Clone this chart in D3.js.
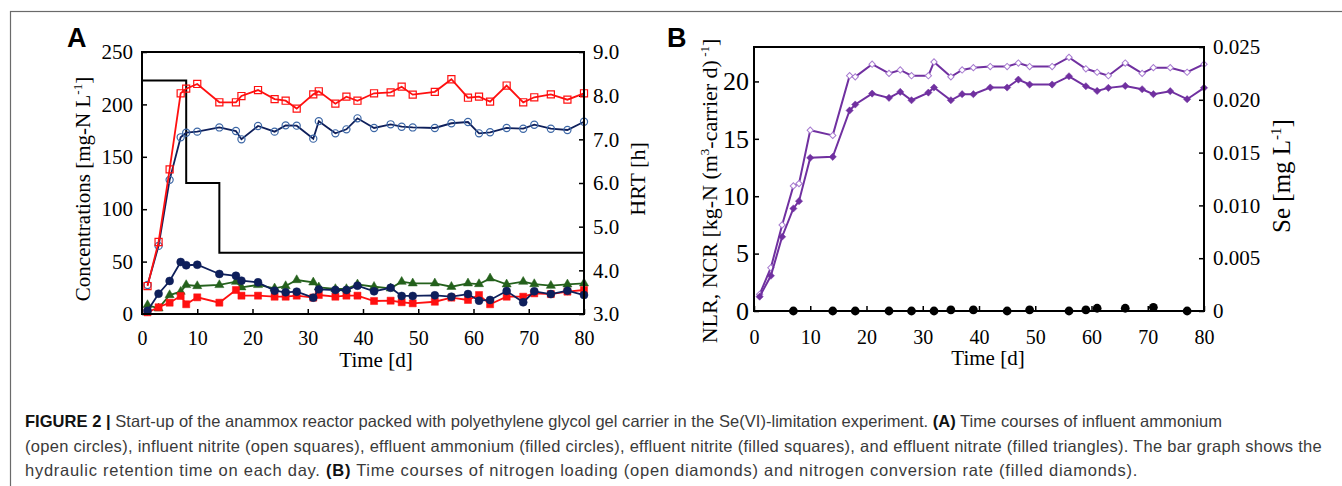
<!DOCTYPE html>
<html>
<head>
<meta charset="utf-8">
<script src="https://cdn.jsdelivr.net/npm/d3@7"></script>
<style>
  body { margin: 0; background: #fff; }
  svg { display: block; }
  .serif { font-family: "Liberation Serif", "Times New Roman", serif; fill: #000; }
  .caption { font-family: "Liberation Sans", Arial, sans-serif; font-size: 16.5px; fill: #3a3a3a; }
  .caption .b { font-weight: bold; fill: #111; }
</style>
</head>
<body>
<div id="chart"></div>
<script>
// Sampling days (shared by both panels)
const days = [1, 3, 5, 7, 8, 10, 14, 17, 18, 21, 24, 26, 28, 31, 32, 35, 37, 39, 42, 45, 47, 49, 53, 56, 59, 61, 63, 66, 69, 71, 74, 77, 80];

// Panel A: concentrations [mg-N/L]
const influentAmmonium = [27.7, 65, 128, 168.6, 173, 174, 178, 174.6, 166.7, 179.4, 174, 180, 179.7, 167.3, 184, 172.4, 176.2, 186.7, 177.5, 181, 178.7, 178, 177.5, 182, 183.2, 172.4, 173.4, 177.5, 176.8, 180.6, 176.8, 175.6, 183.5];
const influentNitrite = [26.7, 68.7, 138, 210.6, 215, 219.5, 202, 202, 208, 213.7, 205, 203.5, 196, 209.6, 212.5, 200.7, 207.4, 203.5, 210.6, 211.5, 216.9, 209.3, 212, 224, 206.4, 207.4, 202.6, 218, 202, 206.8, 209.6, 204.5, 210.6];
const effluentAmmonium = [3, 19.4, 31.5, 49.6, 46.5, 47, 38.2, 36.5, 31.8, 30.2, 22.2, 20.7, 21.3, 15.6, 23.5, 22.9, 22.9, 27, 21.6, 25, 17.2, 17.2, 17.8, 16.5, 19, 12.7, 13.4, 21.9, 11.2, 21.6, 19, 22.2, 18.1];
const effluentNitrite = [1.6, 6.4, 10.8, 17.2, 9.3, 15.9, 10.8, 22.9, 17.5, 17.5, 16.5, 16.5, 17.5, 15.6, 18.1, 16.5, 17.5, 17.5, 12.4, 12.7, 11.2, 10.2, 11.7, 15.6, 13.4, 18.1, 9.3, 16.5, 16.5, 19.7, 19, 21.3, 22.9];
const effluentNitrate = [8.6, 5.4, 18.1, 21.3, 27.7, 26.7, 27.7, 30.8, 25.5, 27.7, 24.5, 26.7, 32.4, 30.2, 25.5, 23.9, 23.9, 28.3, 26, 24.5, 30.8, 29.3, 29.3, 26, 29.3, 28.6, 34, 28.3, 30.8, 28.6, 27, 28.3, 29.3];

// Panel A: HRT [h] steps (value holds until next change day)
const hrtDays = [0, 8, 14, 80];
const hrtValues = [8.35, 6.0, 4.4, 4.4];

// Panel B: nitrogen loading / conversion rate [kg-N (m3-carrier d)-1]
const nlr = [1.45, 3.77, 7.5, 10.9, 11.1, 15.75, 15.3, 20.5, 20.4, 21.5, 20.7, 21.0, 20.5, 20.5, 21.7, 20.4, 21.0, 21.2, 21.3, 21.3, 21.6, 21.3, 21.3, 22.1, 21.1, 20.8, 20.5, 21.6, 20.7, 21.2, 21.2, 20.8, 21.5];
const ncr = [1.25, 3.07, 6.47, 8.93, 9.57, 13.35, 13.43, 17.47, 17.99, 18.94, 18.57, 19.09, 18.36, 19.03, 19.47, 18.36, 18.89, 18.89, 19.47, 19.47, 20.16, 19.73, 19.73, 20.45, 19.58, 19.17, 19.44, 19.61, 19.32, 18.89, 19.15, 18.45, 19.44];

// Panel B: Se [mg/L]
const seDays = [7, 14, 18, 24, 28, 32, 35, 39, 45, 49, 56, 59, 61, 66, 71, 77];
const seValues = [0, 0, 0, 0, 0, 0, 0.0001, 0.0001, 0, 0.0001, 0, 0.0001, 0.00026, 0.00026, 0.00035, 0];

// Tick values
const timeTicks = [0, 10, 20, 30, 40, 50, 60, 70, 80];
const concTicks = [0, 50, 100, 150, 200, 250];
const hrtTicks = [3, 4, 5, 6, 7, 8, 9];
const rateTicks = [0, 5, 10, 15, 20];
const seTicks = [0, 0.005, 0.01, 0.015, 0.02, 0.025];

const width = 1342, height = 486;
const svg = d3.select("#chart").append("svg").attr("width", width).attr("height", height);
svg.append("rect").attr("width", width).attr("height", height).attr("fill", "#fff");

// Outer figure frame (runs off the page on right / bottom)
svg.append("rect")
  .attr("x", 10.5).attr("y", 11.5).attr("width", 1400).attr("height", 600)
  .attr("fill", "none").attr("stroke", "#6a6a6a").attr("stroke-width", 1.2);

const serif = "Liberation Serif, Times New Roman, serif";

// Style an axis group: inward ticks, no domain, serif labels
function styleAxis(g, size) {
  g.select(".domain").remove();
  g.attr("font-family", serif).attr("font-size", size);
  g.selectAll(".tick line").attr("stroke", "#000").attr("stroke-width", 1.5);
  g.selectAll(".tick text").attr("fill", "#000");
}

// ---------------- Panel A ----------------
const xA = d3.scaleLinear().domain([0, 80]).range([142, 584]);
const yA = d3.scaleLinear().domain([0, 250]).range([314, 52]);
const yHRT = d3.scaleLinear().domain([3, 9]).range([314, 52]);

const pA = svg.append("g");

pA.append("g").attr("transform", "translate(0,314)")
  .call(d3.axisBottom(xA).tickValues(timeTicks).tickSizeInner(-5).tickSizeOuter(0).tickPadding(17))
  .call(g => styleAxis(g, 20));
pA.append("g").attr("transform", "translate(142,0)")
  .call(d3.axisLeft(yA).tickValues(concTicks).tickSizeInner(-5).tickSizeOuter(0).tickPadding(9))
  .call(g => styleAxis(g, 21));
pA.append("g").attr("transform", "translate(584,0)")
  .call(d3.axisRight(yHRT).tickValues(hrtTicks).tickSizeInner(-5).tickSizeOuter(0).tickPadding(9).tickFormat(d3.format(".1f")))
  .call(g => styleAxis(g, 21));

// HRT step line
const hrtLine = d3.line().x(d => xA(d[0])).y(d => yHRT(d[1])).curve(d3.curveStepAfter);
pA.append("path")
  .datum(hrtDays.map((d, i) => [d, hrtValues[i]]))
  .attr("d", hrtLine)
  .attr("fill", "none").attr("stroke", "#000").attr("stroke-width", 2);

function drawSeries(g, x, y, values, opt) {
  const pts = days.map((d, i) => [d, values[i]]);
  g.append("path").datum(pts)
    .attr("d", d3.line().x(d => x(d[0])).y(d => y(d[1])))
    .attr("fill", "none").attr("stroke", opt.line).attr("stroke-width", opt.lw || 1.8);
  g.append("g").selectAll("path").data(pts).join("path")
    .attr("transform", d => `translate(${x(d[0])},${y(d[1])})${opt.rotate ? " rotate(45)" : ""}`)
    .attr("d", d3.symbol().type(opt.symbol).size(opt.size))
    .attr("fill", opt.fill).attr("stroke", opt.stroke).attr("stroke-width", opt.sw || 1.2);
}

drawSeries(pA, xA, yA, influentAmmonium, { line: "#0e1f5b", symbol: d3.symbolCircle, size: 40, fill: "none", stroke: "#3c67a6" });
drawSeries(pA, xA, yA, influentNitrite, { line: "#ff1010", symbol: d3.symbolSquare, size: 50, fill: "none", stroke: "#ff1010" });
drawSeries(pA, xA, yA, effluentNitrate, { line: "#24611c", symbol: d3.symbolTriangle, size: 36, fill: "#24611c", stroke: "#24611c", sw: 0.5 });
drawSeries(pA, xA, yA, effluentNitrite, { line: "#ff1010", symbol: d3.symbolSquare, size: 50, fill: "#ff1010", stroke: "#ff1010", sw: 0.5 });
drawSeries(pA, xA, yA, effluentAmmonium, { line: "#0e1f5b", symbol: d3.symbolCircle, size: 50, fill: "#0e1f5b", stroke: "#0e1f5b", sw: 0.5 });

pA.append("rect").attr("x", 142).attr("y", 52).attr("width", 442).attr("height", 262)
  .attr("fill", "none").attr("stroke", "#000").attr("stroke-width", 2);

// Panel A titles
const tA = pA.append("text").attr("class", "serif").attr("font-size", 21)
  .attr("text-anchor", "middle").attr("transform", "translate(90,189) rotate(-90)");
tA.append("tspan").text("Concentrations  [mg-N L");
tA.append("tspan").attr("font-size", 13).attr("dy", -8).text("-1");
tA.append("tspan").attr("dy", 8).text("]");

pA.append("text").attr("class", "serif").attr("font-size", 22).attr("text-anchor", "middle")
  .attr("transform", "translate(645,179) rotate(-90)").text("HRT [h]");
pA.append("text").attr("class", "serif").attr("font-size", 21).attr("text-anchor", "middle")
  .attr("x", 376).attr("y", 367).text("Time  [d]");

svg.append("text").attr("x", 67).attr("y", 47).attr("font-family", "Liberation Sans, Arial, sans-serif")
  .attr("font-weight", "bold").attr("font-size", 27).text("A");

// ---------------- Panel B ----------------
const xB = d3.scaleLinear().domain([0, 80]).range([754, 1204]);
const yB = d3.scaleLinear().domain([0, 23]).range([311, 47]);
const ySe = d3.scaleLinear().domain([0, 0.025]).range([311, 47]);

const pB = svg.append("g");

pB.append("g").attr("transform", "translate(0,311)")
  .call(d3.axisBottom(xB).tickValues(timeTicks).tickSizeInner(-5).tickSizeOuter(0).tickPadding(19))
  .call(g => styleAxis(g, 20));
pB.append("g").attr("transform", "translate(754,0)")
  .call(d3.axisLeft(yB).tickValues(rateTicks).tickSizeInner(-5).tickSizeOuter(0).tickPadding(5))
  .call(g => styleAxis(g, 26));
pB.append("g").attr("transform", "translate(1204,0)")
  .call(d3.axisRight(ySe).tickValues(seTicks).tickSizeInner(-5).tickSizeOuter(0).tickPadding(9)
    .tickFormat(d => d === 0 ? "0" : d3.format(".3f")(d)))
  .call(g => styleAxis(g, 21));

drawSeries(pB, xB, yB, nlr, { line: "#7030a0", lw: 2, symbol: d3.symbolSquare, size: 20, fill: "#fff", stroke: "#a77bd0", rotate: true, sw: 1 });
drawSeries(pB, xB, yB, ncr, { line: "#7030a0", lw: 2, symbol: d3.symbolSquare, size: 26, fill: "#7030a0", stroke: "#7030a0", rotate: true, sw: 0.5 });

// Se points on the right axis
pB.append("g").selectAll("circle").data(seDays.map((d, i) => [d, seValues[i]])).join("circle")
  .attr("cx", d => xB(d[0])).attr("cy", d => ySe(d[1])).attr("r", 4.4).attr("fill", "#000");

pB.append("rect").attr("x", 754).attr("y", 47).attr("width", 450).attr("height", 264)
  .attr("fill", "none").attr("stroke", "#000").attr("stroke-width", 2);

const tB = pB.append("text").attr("class", "serif").attr("font-size", 22)
  .attr("text-anchor", "middle").attr("transform", "translate(717,191) rotate(-90)");
tB.append("tspan").text("NLR, NCR [kg-N (m");
tB.append("tspan").attr("font-size", 13).attr("dy", -8).text("3");
tB.append("tspan").attr("dy", 8).text("-carrier  d)");
tB.append("tspan").attr("font-size", 13).attr("dy", -8).text(" -1");
tB.append("tspan").attr("dy", 8).text("]");

const tSe = pB.append("text").attr("class", "serif").attr("font-size", 25)
  .attr("text-anchor", "middle").attr("transform", "translate(1290,176) rotate(-90)");
tSe.append("tspan").text("Se [mg L");
tSe.append("tspan").attr("font-size", 15).attr("dy", -9).text("-1");
tSe.append("tspan").attr("dy", 9).text("]");

pB.append("text").attr("class", "serif").attr("font-size", 21).attr("text-anchor", "middle")
  .attr("x", 988).attr("y", 365).text("Time  [d]");

svg.append("text").attr("x", 667).attr("y", 47).attr("font-family", "Liberation Sans, Arial, sans-serif")
  .attr("font-weight", "bold").attr("font-size", 27).text("B");

// ---------------- Caption ----------------
const captionLines = [
  [["FIGURE 2 | ", true], ["Start-up of the anammox reactor packed with polyethylene glycol gel carrier in the Se(VI)-limitation experiment. ", false], ["(A)", true], [" Time courses of influent ammonium", false]],
  [["(open circles), influent nitrite (open squares), effluent ammonium (filled circles), effluent nitrite (filled squares), and effluent nitrate (filled triangles). The bar graph shows the", false]],
  [["hydraulic retention time on each day. ", false], ["(B)", true], [" Time courses of nitrogen loading (open diamonds) and nitrogen conversion rate (filled diamonds).", false]]
];
const captionY = [427, 451.5, 476];
const captionEnd = [1222, 1322, 1138]; // right end of each line in the reference
captionLines.forEach((parts, i) => {
  const t = svg.append("text").attr("class", "caption").attr("x", 25).attr("y", captionY[i]);
  parts.forEach(([s, bold]) => t.append("tspan").attr("class", bold ? "b" : null).text(s));
  // spread letters so each line ends where the reference line ends
  const natural = t.node().getComputedTextLength();
  const chars = parts.map(p => p[0]).join("").length;
  t.style("letter-spacing", `${(captionEnd[i] - 25 - natural) / chars}px`);
});
</script>
</body>
</html>
